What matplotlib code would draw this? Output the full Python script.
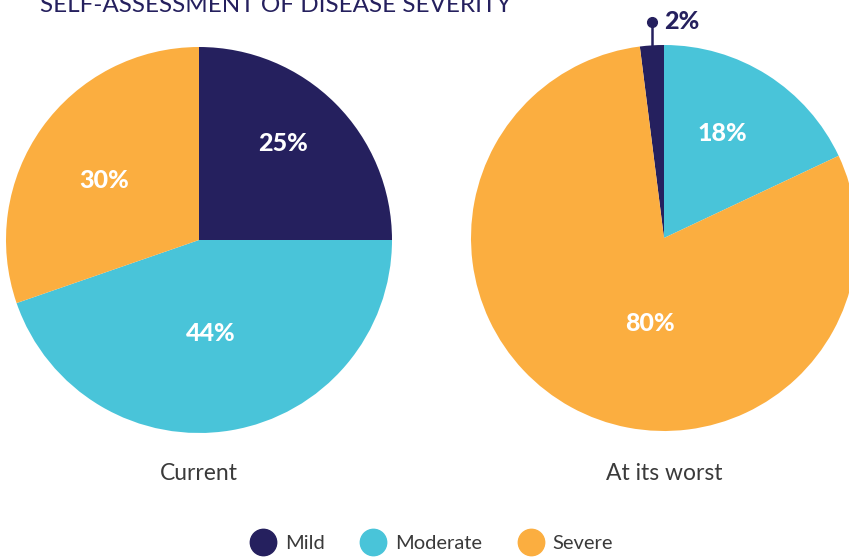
import numpy as np
import matplotlib.pyplot as plt
from matplotlib.lines import Line2D

plt.rcParams['font.family'] = ['Lato', 'DejaVu Sans']

# data (slice sizes as drawn; printed labels are rounded)
categories = ["Mild", "Moderate", "Severe"]
current = [25, 44.7, 30.3]
worst = [2, 18, 80]
current_labels = ["25%", "44%", "30%"]
worst_labels = ["2%", "18%", "80%"]
colors = ["#25205E", "#49C4D9", "#FBAE40"]

W, H = 849, 557
fig = plt.figure(figsize=(W / 100, H / 100), dpi=100)


def pie_axes(cx, cy, r):
    return fig.add_axes([(cx - r) / W, (H - cy - r) / H, 2 * r / W, 2 * r / H])


# left pie
ax1 = pie_axes(199, 240, 193)
ax1.pie(current, colors=colors, startangle=90, counterclock=False, radius=1,
        wedgeprops=dict(linewidth=0))
ax1.set_xlim(-1, 1)
ax1.set_ylim(-1, 1)
ax1.set_aspect('auto')
ax1.axis('off')
# label positions (radius fraction, angle deg)
for lab, (d, a) in zip(current_labels, [(0.66, 49), (0.49, -83), (0.58, 148)]):
    ax1.text(d * np.cos(np.radians(a)), d * np.sin(np.radians(a)), lab,
             ha='center', va='center', color='white', fontsize=18, fontweight='black')

# right pie: mild slice sits just left of 12 o'clock
ax2 = pie_axes(664, 238, 193)
start = 90 + worst[0] / sum(worst) * 360
ax2.pie(worst, colors=colors, startangle=start, counterclock=False, radius=1,
        wedgeprops=dict(linewidth=0))
ax2.set_xlim(-1, 1)
ax2.set_ylim(-1, 1)
ax2.set_aspect('auto')
ax2.axis('off')
for lab, (d, a) in zip(worst_labels[1:], [(0.62, 61), (0.45, -99)]):
    ax2.text(d * np.cos(np.radians(a)), d * np.sin(np.radians(a)), lab,
             ha='center', va='center', color='white', fontsize=18, fontweight='black')
# callout for the small slice
mid = np.radians(start - worst[0] / sum(worst) * 180)
x0 = np.cos(mid)
ax2.plot([x0, x0], [0.99, 1.12], color=colors[0], lw=1.8, clip_on=False)
ax2.plot([x0], [1.12], 'o', color=colors[0], ms=7, clip_on=False)
ax2.text(x0 + 0.065, 1.12, worst_labels[0], ha='left', va='center',
         color=colors[0], fontsize=18, fontweight='black', clip_on=False)

# title & captions
fig.text(40 / W, 1 - 12 / H, "SELF-ASSESSMENT OF DISEASE SEVERITY", ha='left',
         va='baseline', color=colors[0], fontsize=17.5)
fig.text(199 / W, 1 - 474 / H, "Current", ha='center', va='center',
         color='#3a3a3a', fontsize=16.5)
fig.text(664 / W, 1 - 474 / H, "At its worst", ha='center', va='center',
         color='#3a3a3a', fontsize=16.5)

handles = [Line2D([], [], marker='o', ls='', color=c, ms=19) for c in colors]
fig.legend(handles, categories, loc='center', bbox_to_anchor=(428 / W, 1 - 543 / H),
           ncol=3, frameon=False, fontsize=14.5, handletextpad=0.1, columnspacing=1.4,
           labelcolor='#3a3a3a')

fig.savefig("out.png", dpi=100)
